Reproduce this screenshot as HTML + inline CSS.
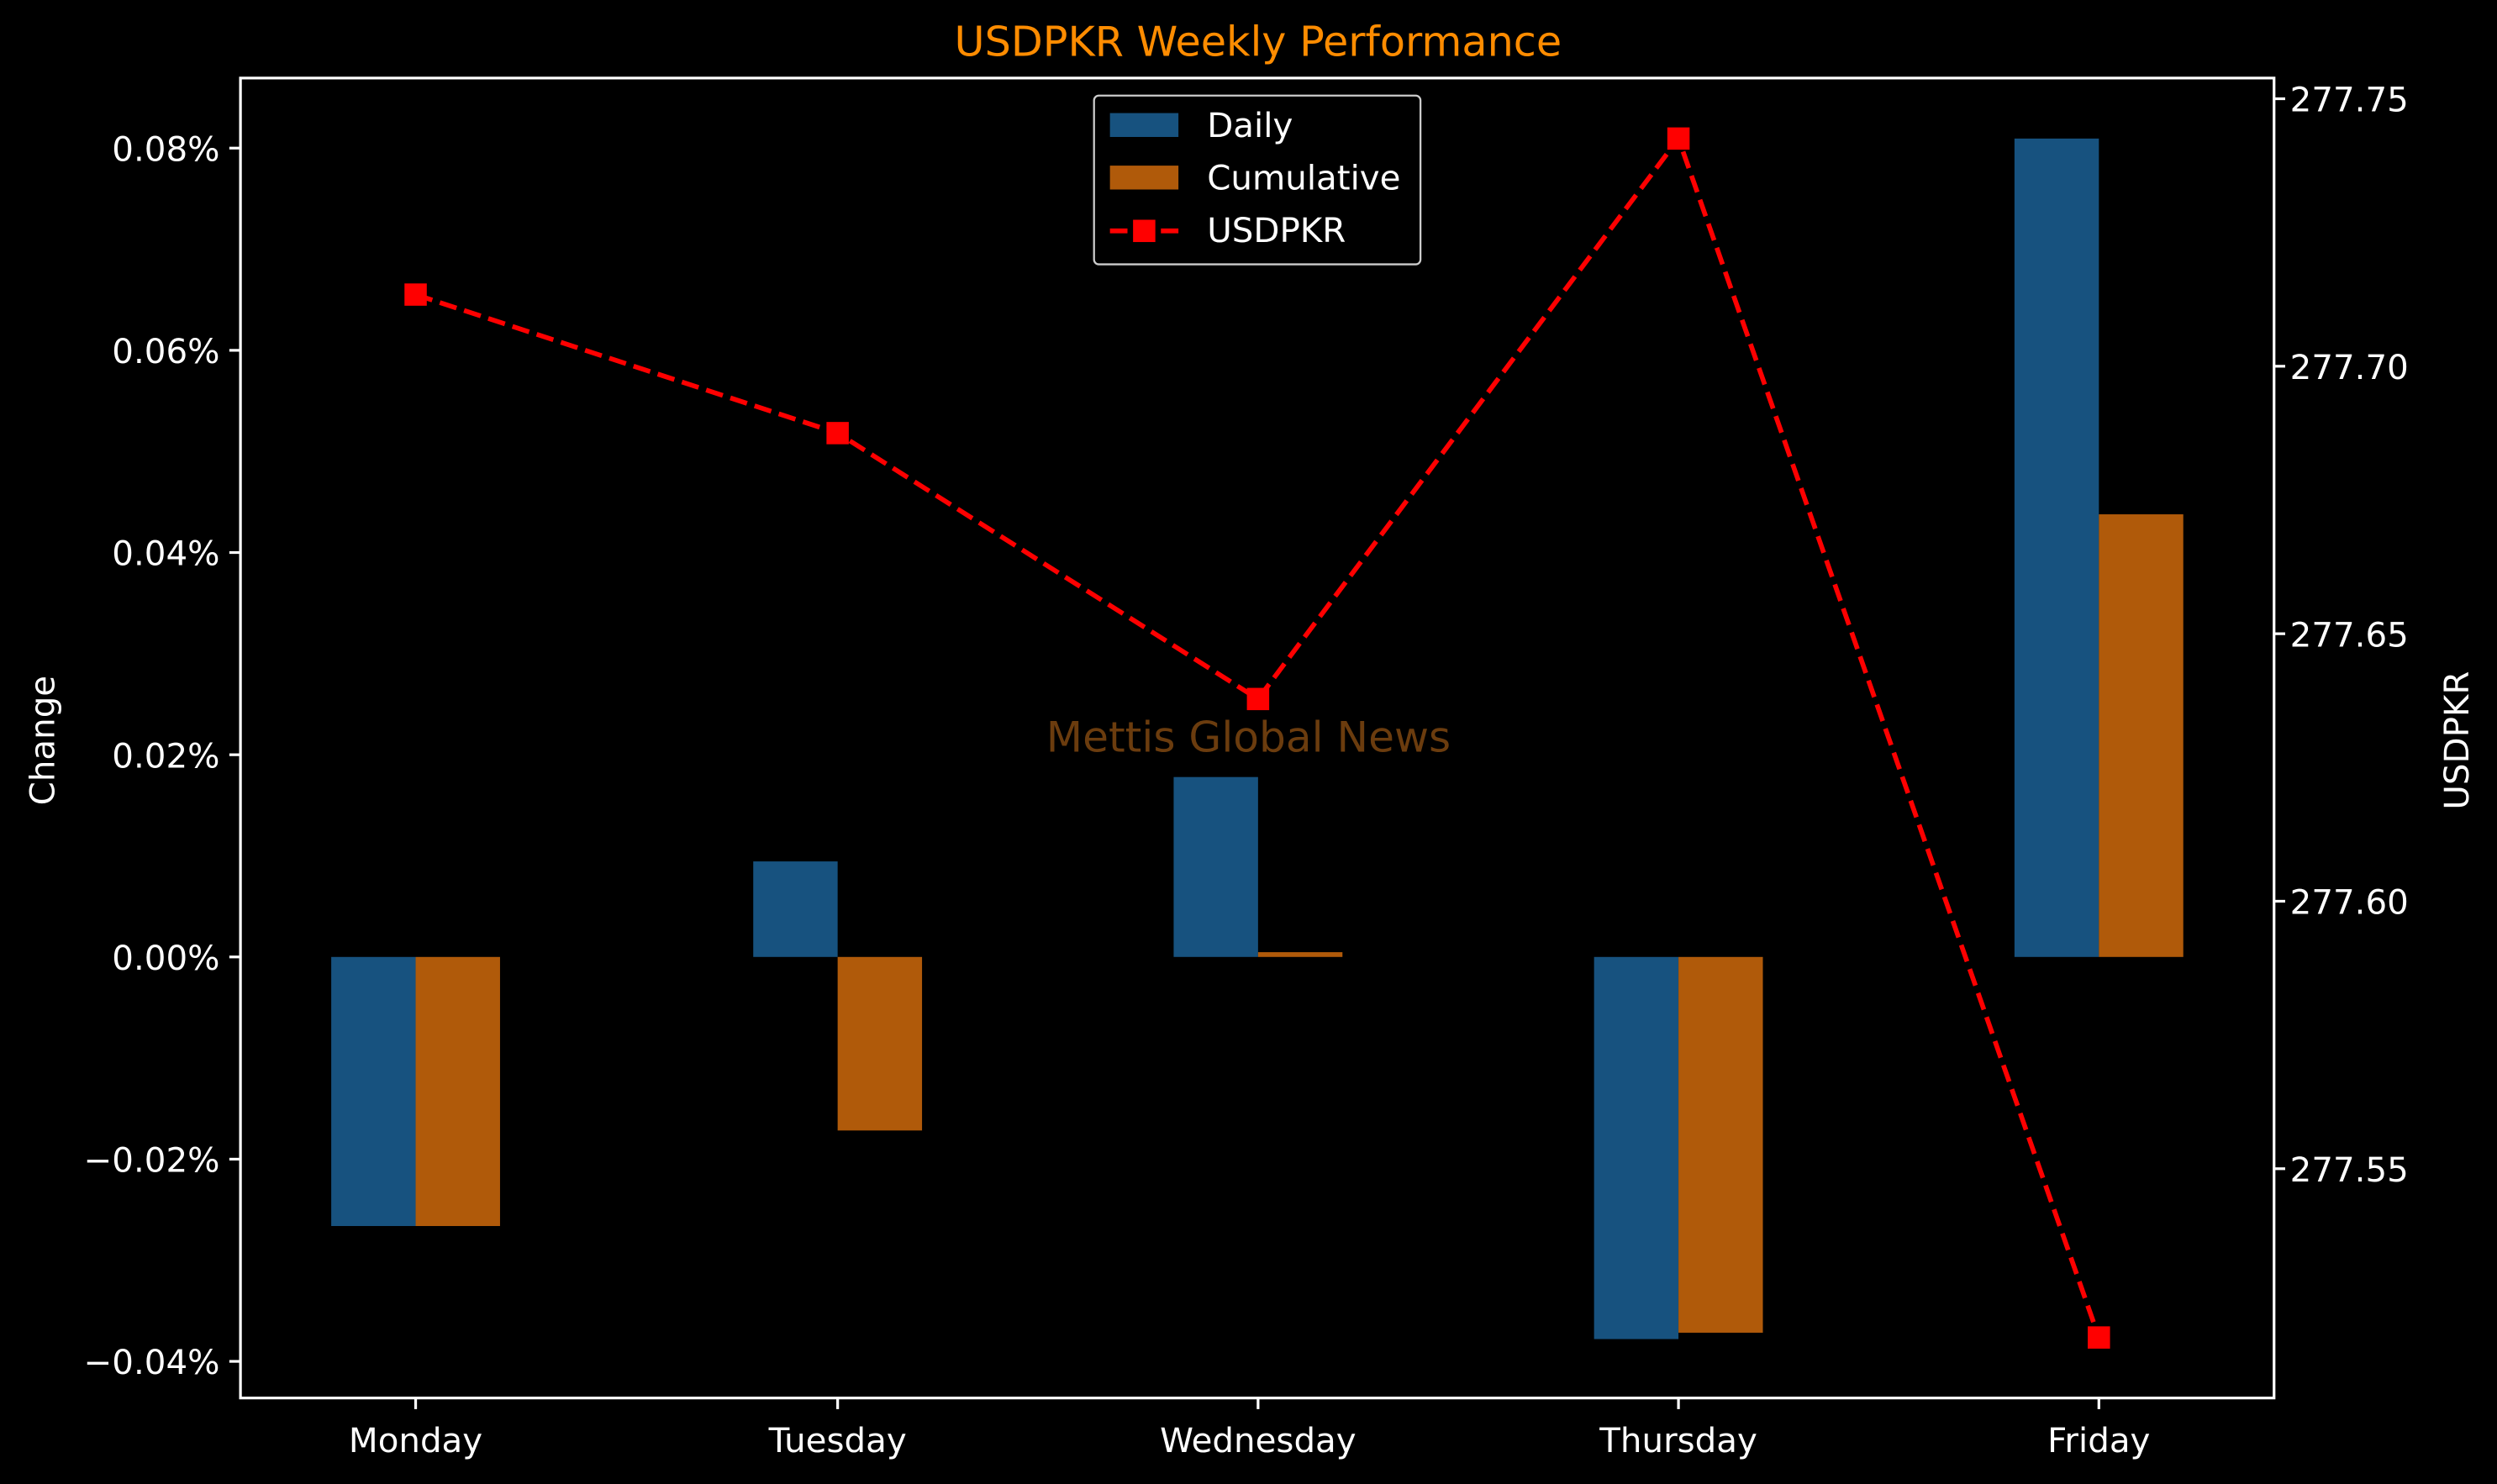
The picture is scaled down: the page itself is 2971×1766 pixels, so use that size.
<!DOCTYPE html>
<html><head><meta charset="utf-8"><style>
html,body{margin:0;padding:0;background:#000;}
svg{display:block;}
text{font-family:"DejaVu Sans","Liberation Sans",sans-serif;fill:#fff;}
</style></head><body>
<svg width="2971" height="1766" viewBox="0 0 1568 932" xmlns="http://www.w3.org/2000/svg">
<rect width="1568" height="932" fill="#000"/>
<text x="790" y="35" font-size="26" text-anchor="middle" style="fill:#ff8c00">USDPKR Weekly Performance</text>
<g fill="#17527f">
<rect x="208" y="601" width="53" height="169"/>
<rect x="473" y="541" width="53" height="60"/>
<rect x="737" y="488" width="53" height="113"/>
<rect x="1001" y="601" width="53" height="240"/>
<rect x="1265" y="87" width="53" height="514"/>
</g>
<g fill="#b05a0a">
<rect x="261" y="601" width="53" height="169"/>
<rect x="526" y="601" width="53" height="109"/>
<rect x="790" y="598" width="53" height="3"/>
<rect x="1054" y="601" width="53" height="236"/>
<rect x="1318" y="323" width="53" height="278"/>
</g>
<text x="784" y="472" font-size="26.5" text-anchor="middle" style="fill:#6b3c0e">Mettis Global News</text>
<polyline points="261,185 526,272 790,439 1054,87 1318,840" fill="none" stroke="#f00" stroke-width="3" stroke-dasharray="11,5"/>
<g fill="#f00">
<rect x="254" y="178" width="14" height="14"/>
<rect x="519" y="265" width="14" height="14"/>
<rect x="783" y="432" width="14" height="14"/>
<rect x="1047" y="80" width="14" height="14"/>
<rect x="1311" y="833" width="14" height="14"/>
</g>
<rect x="151" y="49" width="1277" height="829" fill="none" stroke="#fff" stroke-width="1.7"/>
<g stroke="#fff" stroke-width="1.7">
<line x1="144" y1="93" x2="151" y2="93"/><line x1="144" y1="220" x2="151" y2="220"/><line x1="144" y1="347" x2="151" y2="347"/><line x1="144" y1="474" x2="151" y2="474"/><line x1="144" y1="601" x2="151" y2="601"/><line x1="144" y1="728" x2="151" y2="728"/><line x1="144" y1="855" x2="151" y2="855"/>
<line x1="1428" y1="62" x2="1435" y2="62"/><line x1="1428" y1="230" x2="1435" y2="230"/><line x1="1428" y1="398" x2="1435" y2="398"/><line x1="1428" y1="566" x2="1435" y2="566"/><line x1="1428" y1="734" x2="1435" y2="734"/>
<line x1="261" y1="878" x2="261" y2="885"/><line x1="526" y1="878" x2="526" y2="885"/><line x1="790" y1="878" x2="790" y2="885"/><line x1="1054" y1="878" x2="1054" y2="885"/><line x1="1318" y1="878" x2="1318" y2="885"/>
</g>
<g font-size="21.3" text-anchor="end">
<text x="138" y="101">0.08%</text><text x="138" y="228">0.06%</text><text x="138" y="355">0.04%</text><text x="138" y="482">0.02%</text><text x="138" y="609">0.00%</text><text x="138" y="736">−0.02%</text><text x="138" y="863">−0.04%</text>
</g>
<g font-size="21.3">
<text x="1438" y="70">277.75</text><text x="1438" y="238">277.70</text><text x="1438" y="406">277.65</text><text x="1438" y="574">277.60</text><text x="1438" y="742">277.55</text>
</g>
<g font-size="21.3" text-anchor="middle">
<text x="261" y="912">Monday</text><text x="526" y="912">Tuesday</text><text x="790" y="912">Wednesday</text><text x="1054" y="912">Thursday</text><text x="1318" y="912">Friday</text>
</g>
<text transform="translate(34,465) rotate(-90)" font-size="21.3" text-anchor="middle">Change</text>
<text transform="translate(1550,465) rotate(-90)" font-size="21.3" text-anchor="middle">USDPKR</text>
<rect x="687" y="60" width="205" height="106" rx="3" fill="#000" stroke="#ccc" stroke-width="1.2"/>
<rect x="697" y="71" width="43" height="15" fill="#17527f"/>
<rect x="697" y="104" width="43" height="15" fill="#b05a0a"/>
<line x1="697" y1="145" x2="740" y2="145" stroke="#f00" stroke-width="3" stroke-dasharray="11,5"/>
<rect x="711.5" y="138" width="14" height="14" fill="#f00"/>
<g font-size="21.3">
<text x="758" y="86">Daily</text><text x="758" y="119">Cumulative</text><text x="758" y="152">USDPKR</text>
</g>
</svg>
</body></html>
